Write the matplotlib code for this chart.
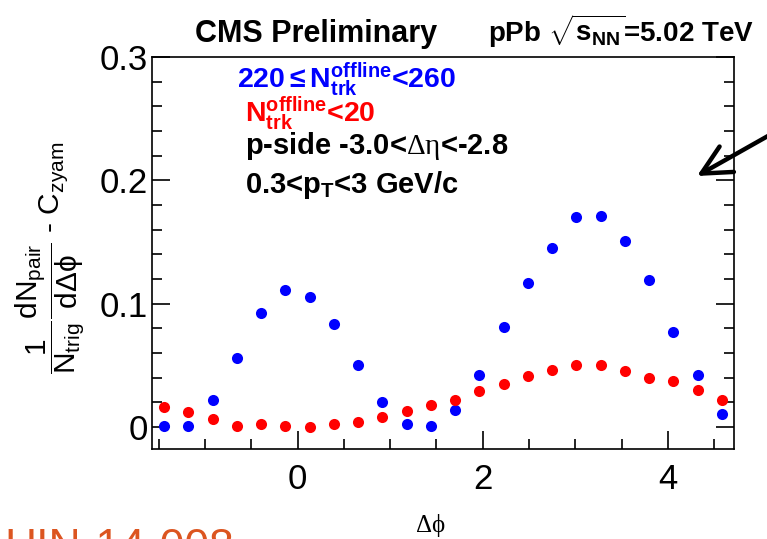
import matplotlib
matplotlib.use("Agg")
import matplotlib.pyplot as plt
import numpy as np
from matplotlib.ticker import MultipleLocator

plt.rcParams['font.family'] = ['Liberation Sans', 'DejaVu Sans']
plt.rcParams['mathtext.fontset'] = 'custom'
plt.rcParams['mathtext.rm'] = 'Liberation Sans'
plt.rcParams['mathtext.it'] = 'Liberation Sans:italic'
plt.rcParams['mathtext.bf'] = 'Liberation Sans:bold'
plt.rcParams['mathtext.sf'] = 'Liberation Serif'   # used for the greek in the p-side line
plt.rcParams['mathtext.default'] = 'regular'

# bin centres: 24 bins of width pi/12 from -pi/2 to 3pi/2
n_bins = 24
dphi = -np.pi / 2 + np.pi / 24 + np.arange(n_bins) * np.pi / 12

# high multiplicity 220<=N<260 (blue)
high_mult = [0.001, 0.001, 0.022, 0.056, 0.092, 0.111, 0.105, 0.083, 0.050, 0.020,
             0.002, 0.001, 0.014, 0.042, 0.081, 0.117, 0.145, 0.170, 0.171, 0.151,
             0.119, 0.077, 0.042, 0.010]
# low multiplicity N<20 (red)
low_mult = [0.016, 0.012, 0.006, 0.001, 0.002, 0.001, 0.000, 0.002, 0.004, 0.008,
            0.013, 0.018, 0.022, 0.029, 0.035, 0.041, 0.046, 0.050, 0.050, 0.045,
            0.040, 0.037, 0.030, 0.022]

W, H = 767, 539
fig = plt.figure(figsize=(W / 100, H / 100), dpi=100)
ax = fig.add_axes([152 / W, 1 - 449 / H, (734 - 152) / W, (449 - 57) / H])

ax.plot(dphi, high_mult, 'o', color='#0000ff', ms=8, mec='none')
ax.plot(dphi, low_mult, 'o', color='#ff0000', ms=8, mec='none')

ax.set_xlim(-np.pi / 2, 3 * np.pi / 2)
ax.set_ylim(-0.018, 0.3)

ax.xaxis.set_major_locator(MultipleLocator(2))
ax.xaxis.set_minor_locator(MultipleLocator(0.5))
ax.yaxis.set_minor_locator(MultipleLocator(0.02))
ax.set_yticks([0, 0.1, 0.2, 0.3])
ax.set_yticklabels(['0', '0.1', '0.2', '0.3'])
ax.tick_params(which='both', direction='in', left=True, right=True, top=False,
               labelsize=25, width=1.2)
ax.tick_params(which='major', length=13)
ax.tick_params(which='minor', length=7)
ax.tick_params(axis='x', pad=10)
ax.tick_params(axis='y', pad=3)
for s in ax.spines.values():
    s.set_linewidth(1.2)

# header
fig.text(195 / W, 1 - 42 / H, 'CMS Preliminary', fontsize=22, fontweight='bold',
         va='baseline')
fig.text(488 / W, 1 - 42 / H, r'pPb $\sqrt{s_{NN}}$=5.02 TeV', fontsize=20,
         fontweight='bold', va='baseline')

# legend texts
fig.text(237 / W, 1 - 88 / H, r'220$\leq N_{trk}^{offline}$<260', color='#0000ff',
         fontsize=20.5, fontweight='bold', va='baseline')
fig.text(245 / W, 1 - 121 / H, r'$N_{trk}^{offline}$<20', color='#ff0000',
         fontsize=20.5, fontweight='bold', va='baseline')
fig.text(245 / W, 1 - 154 / H, r'p-side -3.0<$\mathsf{\Delta\eta}$<-2.8', color='black',
         fontsize=21, fontweight='bold', va='baseline')
fig.text(245 / W, 1 - 193 / H, r'0.3<$p_{T}$<3 GeV/c', color='black',
         fontsize=21, fontweight='bold', va='baseline')

# axis labels
fig.text(430 / W, 1 - 532 / H, r'$\Delta\phi$', fontsize=18, ha='center',
         va='baseline', family=['Liberation Serif', 'DejaVu Serif'])
fig.text(50 / W, 1 - 258 / H,
         r'$\dfrac{1}{N_{trig}}\dfrac{dN_{pair}}{d\Delta\phi}$ - C$_{zyam}$',
         fontsize=21.5, rotation=90, ha='center', va='center')

# slide leftovers: arrow and reference number
ax.annotate('', xy=(697, H - 176), xytext=(775, H - 132), xycoords='figure pixels',
            textcoords='figure pixels', annotation_clip=False,
            arrowprops=dict(arrowstyle='->,head_length=0.7,head_width=0.35',
                            lw=3.2, color='black', mutation_scale=30,
                            shrinkA=0, shrinkB=0))
fig.text(234 / W, 1 - 560 / H, 'HIN-14-008', fontsize=32, color='#dc5520',
         ha='right', va='baseline')

fig.savefig('out.png', dpi=100)
